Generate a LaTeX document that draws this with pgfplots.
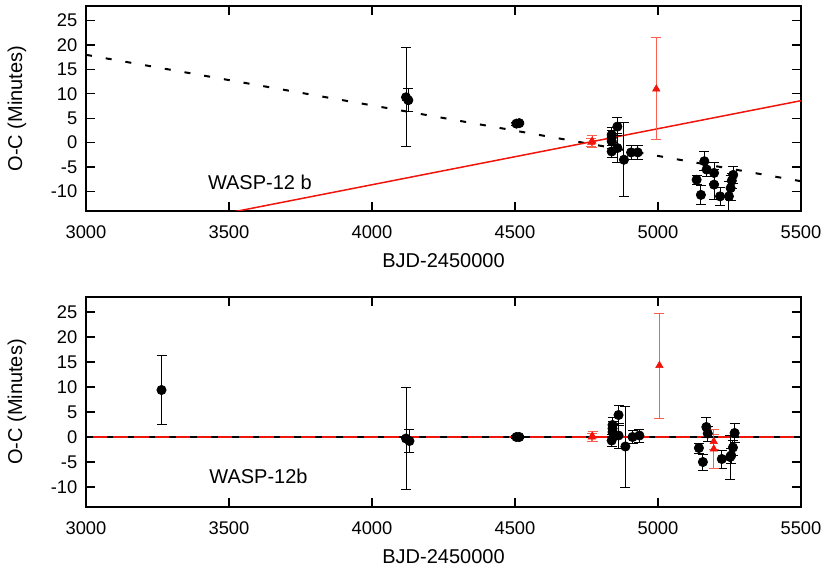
\documentclass[border=0pt]{standalone}
\usepackage{fontspec}
\setmainfont{Liberation Sans}
\usepackage{pgfplots}
\pgfplotsset{compat=1.18}
\usepackage{pgfplotstable}

\definecolor{ocred}{RGB}{240,20,10}
\definecolor{errred}{RGB}{250,95,80}

% x  y  ey
\pgfplotstableread{
x y ey
4119 9.3 10.1
4127 8.7 2.4
4505 3.9 0.3
4515 4.0 0.3
4838 1.6 1.5
4838 1.0 1.5
4838 0.3 1.5
4838 -1.8 1.2
4858 3.3 1.8
4858 -1.1 3.0
4881 -3.5 7.6
4906 -2.0 1.4
4929 -2.0 1.4
5135 -7.6 0.9
5150 -10.7 2.0
5162 -3.8 2.0
5170 -5.5 1.5
5196 -6.2 2.2
5196 -8.6 3.0
5217 -11.0 1.8
5248 -11.0 3.0
5254 -9.3 2.5
5263 -6.6 1.7
5258 -7.8 1.5
}\topblack

\pgfplotstableread{
x y ey
4767 0.1 0.8
4770 0.3 1.2
4994 11.0 10.45
}\topred

\pgfplotstableread{
x y ey
3264 9.4 6.9
4119 -0.3 10.15
4131 -0.8 2.35
4505 0.0 0.3
4515 0.0 0.3
4841 1.7 1.5
4841 2.4 1.5
4841 1.0 1.5
4838 -0.7 1.2
4862 4.4 2.0
4862 0.3 2.5
4886 -1.9 8.1
4911 0.0 1.3
4935 0.3 1.3
5143 -2.2 1.0
5157 -5.0 1.6
5169 2.0 2.0
5174 0.7 1.5
5223 -4.4 1.8
5268 0.8 1.9
5262 -2.1 1.5
5256 -3.7 1.5
5252 -4.0 4.4
}\botblack

\pgfplotstableread{
x y ey
4768 0.0 0.8
4771 0.15 1.0
5005 14.3 10.5
5195 -0.9 1.5
5195 -2.4 3.9
}\botred

\pgfplotsset{
  ocaxis/.style={
    width=429pt, scale only axis,
    xmin=3000, xmax=5500, ymin=-14, ymax=28,
    xtick={3000,3500,...,5500}, ytick={-10,-5,...,25},
    tick align=inside, major tick length=5.5pt,
    tick style={black, line width=0.7pt},
    axis line style={line width=0.9pt},
    /pgf/number format/assume math mode=true,
    /pgf/number format/set thousands separator={},
    tick label style={font=\fontsize{11}{13}\selectfont},
    label style={font=\fontsize{12}{14}\selectfont},
    xticklabel style={yshift=-5.3pt},
    yticklabel style={xshift=-1.7pt},
    xlabel={BJD-2450000},
    ylabel={O-C (Minutes)},
    xlabel style={at={(axis description cs:0.5,0)}, anchor=center, yshift=-30pt},
  },
  blackpts/.style={only marks, mark=*, mark size=2.8pt, black,
    error bars/.cd, y dir=both, y explicit, error mark=-,
    error bar style={black, line width=0.6pt},
    error mark options={black, rotate=90, mark size=3pt, line width=0.6pt}},
  redpts/.style={only marks, mark=triangle*, mark size=2.5pt, ocred,
    error bars/.cd, y dir=both, y explicit, error mark=-,
    error bar style={errred, line width=0.6pt},
    error mark options={errred, rotate=90, mark size=3pt, line width=0.6pt}},
}

\begin{document}
\begin{tikzpicture}
\begin{axis}[ocaxis, height=126pt, at={(0,0)},
    ylabel style={at={(axis description cs:-0.0965,0.5)}, anchor=center}]
  \addplot[ocred, line width=0.9pt] coordinates {(3000,0) (5500,0)};
  \addplot[black, line width=1.2pt, dash pattern=on 4pt off 8.5pt] coordinates {(3000,0) (5500,0)};
  \addplot[blackpts] table[x=x, y=y, y error=ey] {\botblack};
  \addplot[redpts] table[x=x, y=y, y error=ey] {\botred};
  \node[font=\fontsize{12}{14}\selectfont] at (axis cs:3603,-7.9) {WASP-12b};
  \path (axis description cs:0,0) ++(-51.6pt,-38.4pt) coordinate (bl);
\end{axis}
\begin{axis}[ocaxis, height=123pt, at={(0,177.6pt)},
    ylabel style={at={(axis description cs:-0.0965,0.5)}, anchor=center}]
  \addplot[black, line width=1.2pt, dash pattern=on 3.6pt off 8.4pt] coordinates {(3000,18.0) (5500,-7.9)};
  \addplot[ocred, line width=0.9pt] coordinates {(3000,-20.1) (5500,8.6)};
  \addplot[blackpts] table[x=x, y=y, y error=ey] {\topblack};
  \addplot[redpts] table[x=x, y=y, y error=ey] {\topred};
  \node[font=\fontsize{12}{14}\selectfont] at (axis cs:3608,-8.1) {WASP-12 b};
  \path (axis description cs:1,1) ++(17.4pt,3.6pt) coordinate (tr);
\end{axis}
\path (bl) rectangle (tr);
\end{tikzpicture}
\end{document}
